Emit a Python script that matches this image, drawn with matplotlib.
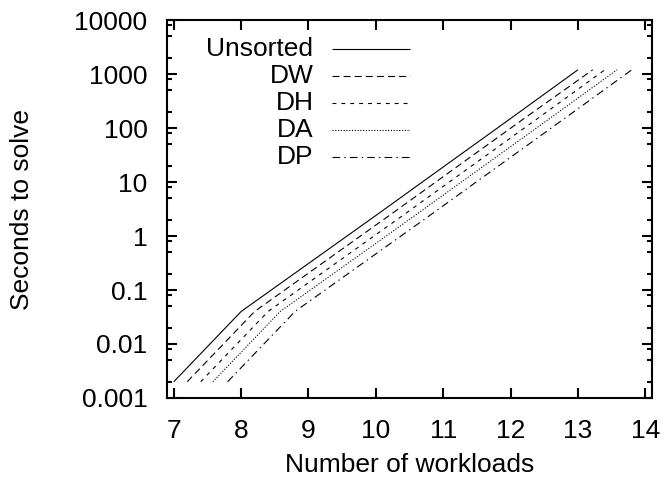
import matplotlib
matplotlib.use("Agg")
import matplotlib.pyplot as plt
from matplotlib.ticker import FixedLocator, LogLocator, NullFormatter, NullLocator

plt.rcParams['font.family'] = ['Liberation Sans', 'DejaVu Sans']
plt.rcParams['font.size'] = 19
plt.rcParams['lines.scale_dashes'] = False

# solve time (seconds) against number of workloads
unsorted_x = [7.0, 8.0, 9.0, 10.0, 11.0, 12.0, 13.0]
unsorted_y = [0.002, 0.04, 0.31, 2.4, 19, 150, 1200]

dw_x = [7.2, 8.2, 9.2, 10.2, 11.2, 12.2, 13.22]
dw_y = [0.002, 0.04, 0.31, 2.4, 19, 150, 1200]

dh_x = [7.4, 8.4, 9.4, 10.4, 11.4, 12.4, 13.4]
dh_y = [0.002, 0.04, 0.31, 2.4, 19, 150, 1200]

da_x = [7.58, 8.58, 9.58, 10.58, 11.58, 12.58, 13.58]
da_y = [0.002, 0.04, 0.31, 2.4, 19, 150, 1200]

dp_x = [7.8, 8.8, 9.8, 10.8, 11.8, 12.8, 13.8]
dp_y = [0.002, 0.04, 0.31, 2.4, 19, 150, 1200]

series = [
    ("Unsorted", unsorted_x, unsorted_y, (0, ())),
    ("DW", dw_x, dw_y, (0, (5.0, 3.0))),
    ("DH", dh_x, dh_y, (0, (2.8, 3.6))),
    ("DA", da_x, da_y, (0, (0.8, 1.2))),
    ("DP", dp_x, dp_y, (0, (5.5, 3.0, 1.0, 3.0))),
]

y_ticks = [0.001, 0.01, 0.1, 1, 10, 100, 1000, 10000]
y_labels = ["0.001", "0.01", "0.1", "1", "10", "100", "1000", "10000"]
x_ticks = [7, 8, 9, 10, 11, 12, 13, 14]

fig = plt.figure(figsize=(6.66, 4.78), dpi=100)
ax = fig.add_axes([0.2508, 0.1674, 0.979 - 0.2508, 0.958 - 0.1674])

for name, xs, ys, ls in series:
    ax.plot(xs, ys, color='black', lw=0.8, linestyle=ls)

ax.set_yscale('log')
ax.set_xlim(6.9, 14.1)
ax.set_ylim(0.001, 10000)

ax.yaxis.set_major_locator(FixedLocator(y_ticks))
ax.set_yticklabels(y_labels)
ax.yaxis.set_minor_locator(LogLocator(base=10, subs=(2, 5, 8)))
ax.yaxis.set_minor_formatter(NullFormatter())
ax.set_xticks(x_ticks)
ax.xaxis.set_minor_locator(NullLocator())

ax.tick_params(which='both', direction='in', top=True, right=True, width=1.5)
ax.tick_params(which='major', length=7.5)
ax.tick_params(which='minor', length=3.5)
ax.tick_params(axis='y', which='major', pad=14)
ax.tick_params(axis='x', which='major', pad=15)
for sp in ax.spines.values():
    sp.set_linewidth(1.5)

ax.set_xlabel("Number of workloads", labelpad=7)
ax.set_ylabel("Seconds to solve", labelpad=29)

# key in the upper left, right-justified labels followed by line samples
key_top = 0.923
key_step = 0.0715
for i, (name, xs, ys, ls) in enumerate(series):
    yk = key_top - i * key_step
    ax.text(0.302, yk, name, transform=ax.transAxes, ha='right', va='center')
    ax.plot([0.340, 0.500], [yk, yk], transform=ax.transAxes,
            color='black', lw=0.8, linestyle=ls)

fig.savefig("out.png", dpi=100)
